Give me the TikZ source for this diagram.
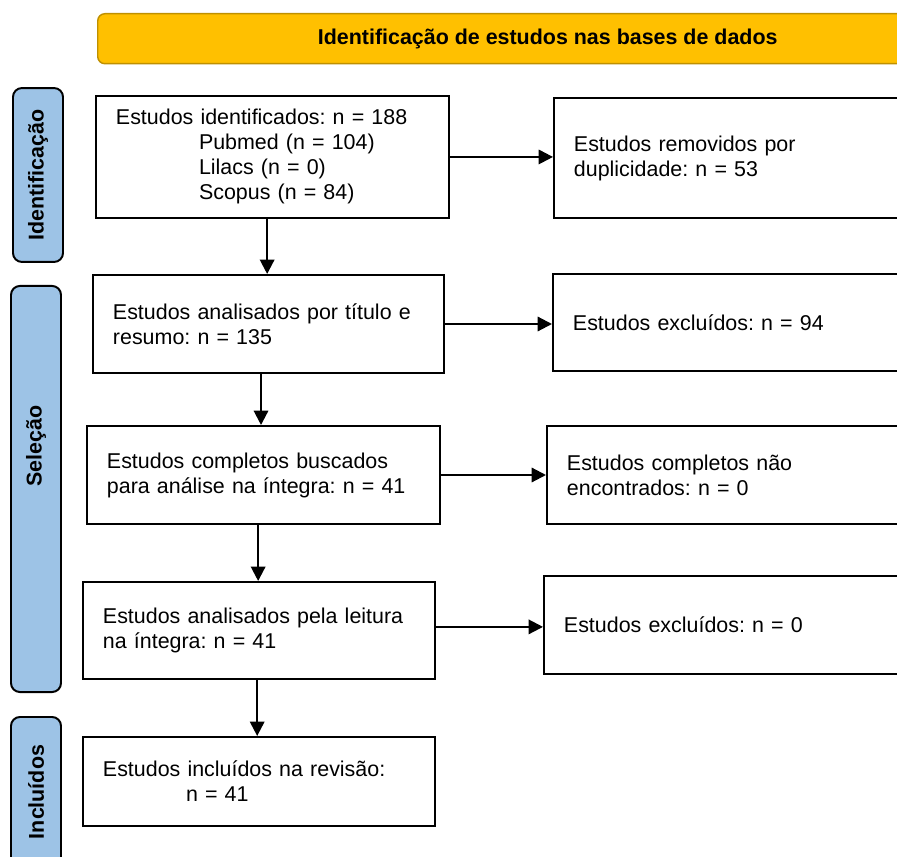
\documentclass[tikz,border=0pt]{standalone}
\usepackage{fontspec}
\setmainfont{Liberation Sans}
\frenchspacing
\usetikzlibrary{arrows.meta}
\definecolor{bannerfill}{HTML}{FFC000}
\definecolor{bannerdraw}{HTML}{BF9000}
\definecolor{phasefill}{HTML}{9DC3E6}
\tikzset{ %font = \fontsize{12}{14}\selectfont,
  {box/.style} ={draw, line width=1.1pt, anchor=north west,
                 inner xsep=11.2pt, align=left,
                 font=\fontsize{12}{14}\selectfont},
  {sidebox/.style} ={box, minimum height=#1},
  {phase/.style} ={draw, line width=1.1pt, fill=phasefill,
                   rounded corners=5pt, minimum width=28pt},
  {phase label/.style} ={rotate=90, font=\fontsize{12}{14}\selectfont\bfseries},
  {banner/.style} ={draw=bannerdraw, line width=0.8pt, fill=bannerfill,
                    rounded corners=4pt, anchor=north west,
                    minimum width=504pt, minimum height=28pt,
                    font=\fontsize{12}{14}\selectfont\bfseries},
  {flow/.style} ={line width=1.2pt, -{Triangle[length=8pt,width=8pt]}},
}
\begin{document}
\begin{tikzpicture}[x=0.56pt, y=-0.56pt]
\path[use as bounding box] (0,0) rectangle (897,857);
\clip (0,0) rectangle (897,857);

% banner
\node[banner] (top) at (97,13) {Identificação de estudos nas bases de dados};

% phases on the left
\node[phase, minimum height=97.4pt] (pid) at (38,175) {};
\node[phase, minimum height=227.4pt] (psel) at (36,489) {};
\node[phase, minimum height=84pt] (pinc) at (36,792) {};
\node[phase label] (lid) at (pid.center) {Identificação};
\node[phase label] (lsel) at ([yshift=24pt]psel.center) {Seleção};
\node[phase label] (linc) at (pinc.center) {Incluídos};

% main column
\node[box, text width=175.3pt, minimum height=68.3pt] (ident) at (95,95)
  {Estudos identificados: n = 188\\
   \hspace*{46.5pt}Pubmed (n = 104)\\
   \hspace*{46.5pt}Lilacs (n = 0)\\
   \hspace*{46.5pt}Scopus (n = 84)};
\node[box, text width=174.2pt, minimum height=54.9pt] (titulo) at (92,274)
  {Estudos analisados por título e\\resumo: n = 135};
\node[box, text width=175.3pt, minimum height=54.9pt] (busca) at (86,425)
  {Estudos completos buscados\\para análise na íntegra: n = 41};
\node[box, text width=174.7pt, minimum height=54.3pt] (leitura) at (82,581)
  {Estudos analisados pela leitura\\na íntegra: n = 41};
\node[box, text width=174.7pt, minimum height=49.8pt] (incl) at (82,736)
  {Estudos incluídos na revisão:\\\hspace*{46.5pt}n = 41};

% side column
\node[sidebox=67.2pt, text width=200pt] (dup) at (553,97)
  {Estudos removidos por\\duplicidade: n = 53};
\node[sidebox=54.3pt, text width=200pt] (exc1) at (552,273)
  {Estudos excluídos: n = 94};
\node[sidebox=54.9pt, text width=200pt] (nenc) at (546,425)
  {Estudos completos não\\encontrados: n = 0};
\node[sidebox=54.9pt, text width=200pt] (exc2) at (543,575)
  {Estudos excluídos: n = 0};

% arrows down
\draw[flow] ([xshift=-3pt]ident.south) -- ([xshift=-3pt]ident.south |- titulo.north);
\draw[flow] ([xshift=-4.2pt]titulo.south) -- ([xshift=-4.2pt]titulo.south |- busca.north);
\draw[flow] ([xshift=-3pt]busca.south) -- ([xshift=-3pt]busca.south |- leitura.north);
\draw[flow] ([xshift=-1pt]leitura.south) -- ([xshift=-1pt]leitura.south |- incl.north);

% arrows right
\draw[flow] (ident.east) -- (ident.east -| dup.west);
\draw[flow] (titulo.east) -- (titulo.east -| exc1.west);
\draw[flow] (busca.east) -- (busca.east -| nenc.west);
\draw[flow] ([yshift=2pt]leitura.east) -- ([yshift=2pt]leitura.east -| exc2.west);
\end{tikzpicture}
\end{document}
